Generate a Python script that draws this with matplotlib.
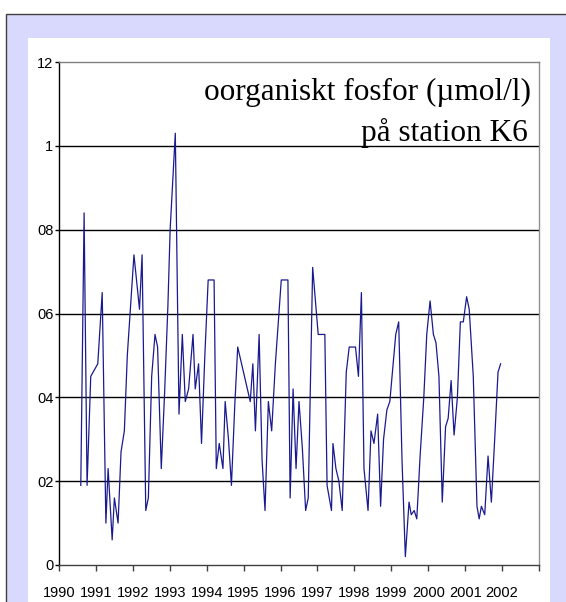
import matplotlib.pyplot as plt
from matplotlib.patches import Rectangle

# Provtagningar (decimalår) och halter av oorganiskt fosfor
ar = [1990.59, 1990.68, 1990.76, 1990.86, 1991.05, 1991.17, 1991.27, 1991.33, 1991.44, 1991.50,
      1991.60, 1991.68, 1991.77, 1991.85, 1991.94, 1992.03, 1992.18, 1992.25, 1992.35, 1992.42,
      1992.51, 1992.60, 1992.67, 1992.77, 1992.86, 1992.95, 1993.01, 1993.15, 1993.25, 1993.34,
      1993.42, 1993.51, 1993.63, 1993.69, 1993.78, 1993.86, 1993.95, 1994.04, 1994.20, 1994.26,
      1994.34, 1994.44, 1994.50, 1994.59, 1994.67, 1994.76, 1994.84, 1995.18, 1995.25, 1995.32,
      1995.42, 1995.50, 1995.58, 1995.67, 1995.76, 1995.86, 1996.02, 1996.20, 1996.26, 1996.34,
      1996.42, 1996.50, 1996.59, 1996.68, 1996.75, 1996.87, 1997.02, 1997.20, 1997.26, 1997.38,
      1997.42, 1997.50, 1997.58, 1997.67, 1997.78, 1997.86, 1998.03, 1998.11, 1998.19, 1998.26,
      1998.37, 1998.45, 1998.53, 1998.63, 1998.71, 1998.79, 1998.88, 1998.96, 1999.12, 1999.20,
      1999.29, 1999.38, 1999.48, 1999.54, 1999.62, 1999.69, 1999.78, 1999.88, 1999.96, 2000.05,
      2000.14, 2000.21, 2000.29, 2000.38, 2000.47, 2000.54, 2000.62, 2000.70, 2000.79, 2000.87,
      2000.95, 2001.04, 2001.11, 2001.22, 2001.32, 2001.38, 2001.44, 2001.53, 2001.62, 2001.71,
      2001.80, 2001.89, 2001.96]
fosfor = [0.19, 0.84, 0.19, 0.45, 0.48, 0.65, 0.10, 0.23, 0.06, 0.16,
          0.10, 0.27, 0.32, 0.50, 0.62, 0.74, 0.61, 0.74, 0.13, 0.16,
          0.45, 0.55, 0.52, 0.23, 0.41, 0.62, 0.80, 1.03, 0.36, 0.55,
          0.39, 0.42, 0.55, 0.42, 0.48, 0.29, 0.50, 0.68, 0.68, 0.23,
          0.29, 0.23, 0.39, 0.30, 0.19, 0.38, 0.52, 0.39, 0.48, 0.32,
          0.55, 0.25, 0.13, 0.39, 0.32, 0.48, 0.68, 0.68, 0.16, 0.42,
          0.23, 0.39, 0.28, 0.13, 0.16, 0.71, 0.55, 0.55, 0.19, 0.13,
          0.29, 0.23, 0.20, 0.13, 0.46, 0.52, 0.52, 0.45, 0.65, 0.23,
          0.13, 0.32, 0.29, 0.36, 0.14, 0.30, 0.37, 0.39, 0.55, 0.58,
          0.25, 0.02, 0.15, 0.12, 0.13, 0.11, 0.26, 0.40, 0.55, 0.63,
          0.55, 0.53, 0.45, 0.15, 0.33, 0.35, 0.44, 0.31, 0.40, 0.58,
          0.58, 0.64, 0.61, 0.45, 0.14, 0.11, 0.14, 0.12, 0.26, 0.15,
          0.30, 0.46, 0.48]

y_ticks = [0, 0.2, 0.4, 0.6, 0.8, 1.0, 1.2]
y_labels = ['0', '02', '04', '06', '08', '1', '12']
x_ticks = list(range(1990, 2004))
x_labels = [str(a) for a in range(1990, 2003)] + ['']

W, H = 566, 602
fig = plt.figure(figsize=(W / 100, H / 100), dpi=100)
fig.patch.set_facecolor('white')

# ram och bakgrund
fig.patches.append(Rectangle((6 / W, -0.05), 1.1, (H - 14) / H + 0.05, transform=fig.transFigure,
                             facecolor='#d9d9fd', edgecolor='#404040', linewidth=1.0, zorder=0))
fig.patches.append(Rectangle((28 / W, -0.05), (550 - 28) / W, (H - 38) / H + 0.05, transform=fig.transFigure,
                             facecolor='white', edgecolor='none', zorder=0.5))

ax = fig.add_axes([59 / W, 37 / H, 480 / W, 503 / H])
ax.set_zorder(2)
ax.set_facecolor('white')
ax.plot(ar, fosfor, color='#1a1a90', linewidth=0.9, zorder=3)

ax.set_xlim(1990, 2003)
ax.set_ylim(0, 1.2)

ax.set_yticks(y_ticks)
ax.set_yticklabels(y_labels)
ax.set_xticks(x_ticks)
ax.set_xticklabels(x_labels)

tick_font = ['Liberation Sans Narrow', 'Liberation Sans', 'DejaVu Sans']
for lab in ax.get_xticklabels() + ax.get_yticklabels():
    lab.set_family(tick_font)
    lab.set_fontsize(10.5)
    lab.set_color('black')

ax.tick_params(axis='x', direction='out', length=4, width=1, color='#404040', pad=11)
ax.tick_params(axis='y', direction='out', length=3, width=1, color='black', pad=1)

for v in y_ticks[1:-1]:
    ax.axhline(v, color='black', linewidth=1.0, zorder=1)

ax.spines['left'].set_color('black')
ax.spines['bottom'].set_color('#404040')
ax.spines['top'].set_color('#808080')
ax.spines['right'].set_color('#909090')
for s in ax.spines.values():
    s.set_linewidth(1.0)

# rubrik
serif = ['Liberation Serif', 'DejaVu Serif']
fig.text(531 / W, 1 - 92 / H, 'oorganiskt fosfor (µmol/l)', ha='right', va='center',
         fontsize=22.5, family=serif, zorder=5)
fig.text(528 / W, 1 - 133 / H, 'på station K6', ha='right', va='center',
         fontsize=22.5, family=serif, zorder=5)

fig.savefig('out.png', dpi=100)
